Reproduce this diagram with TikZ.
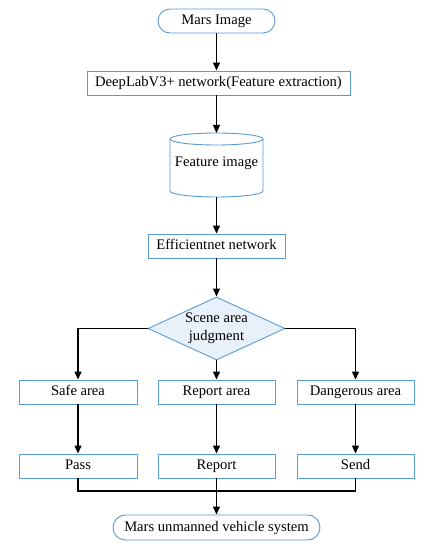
\documentclass[tikz,border=0pt]{standalone}
\usepackage{fontspec}
\setmainfont{Liberation Serif}
\usetikzlibrary{shapes.geometric,arrows.meta}
\definecolor{bord}{HTML}{5A9BD3}
\definecolor{dfill}{HTML}{E8F0FA}
\begin{document}
\begin{tikzpicture}[x=1pt,y=1pt,
  every node/.style={font=\fontsize{14.6}{18}\selectfont, inner sep=0pt},
  box/.style={draw=bord, line width=0.9pt, fill=white, minimum height=24pt, text height=10pt, text depth=3pt},
  term/.style={box, rounded corners=12pt},
  conn/.style={line width=1.2pt, black},
  arr/.style={conn, -{Triangle[length=8pt,width=7pt]}}]
\useasboundingbox (0,0) rectangle (430,550);
\fill[white] (0,0) rectangle (430,550);

\node[term, minimum width=117pt] (mars) at (216.5,529) {Mars Image};
\node[box, minimum width=263pt] (deep) at (218.5,467) {DeepLabV3+ network(Feature extraction)};

% cylinder
\coordinate (cyltop) at (216.5,417);
\coordinate (cylbot) at (216.5,353);
\draw[draw=bord, line width=0.9pt, fill=white]
  (170,411) -- (170,359) arc[start angle=180, end angle=360, x radius=46.5, y radius=6]
  -- (263,411) arc[start angle=0, end angle=180, x radius=46.5, y radius=6] -- cycle;
\draw[draw=bord, line width=0.9pt] (170,411) arc[start angle=180, end angle=360, x radius=46.5, y radius=6];
\node (cyl) at (216.5,387) {Feature image};

\node[box, minimum width=137pt] (eff) at (216.5,304) {Efficientnet network};
\node[diamond, draw=bord, line width=0.9pt, fill=dfill, aspect=2.17,
      minimum width=137pt, minimum height=63pt, align=center] (judge) at (216.5,221.5)
      {Scene area\\judgment};

\node[box, minimum width=118pt] (safe) at (78,158) {Safe area};
\node[box, minimum width=117pt] (repa) at (216.5,158) {Report area};
\node[box, minimum width=117pt] (dang) at (355.5,158) {Dangerous area};

\node[box, minimum width=118pt] (pass) at (78,84) {Pass};
\node[box, minimum width=117pt] (rep) at (216.5,84) {Report};
\node[box, minimum width=117pt] (send) at (355.5,84) {Send};

\node[term, minimum width=207pt, minimum height=25pt, rounded corners=12.5pt] (mars2) at (216.5,22.5) {Mars unmanned vehicle system};

\draw[arr] (mars) -- (mars |- deep.north);
\draw[arr] (mars |- deep.south) -- (cyltop);
\draw[arr] (cylbot) -- (eff);
\draw[arr] (eff) -- (judge);
\draw[arr] (judge.west) -| (safe.north);
\draw[arr] (judge) -- (repa);
\draw[arr] (judge.east) -| (dang.north);
\draw[arr] (safe) -- (pass);
\draw[arr] (repa) -- (rep);
\draw[arr] (dang) -- (send);
\coordinate (jn) at (216.5,59);
\draw[conn] (pass.south) |- (jn) -| (send.south);
\draw[arr] (rep) -- (mars2);
\end{tikzpicture}
\end{document}
